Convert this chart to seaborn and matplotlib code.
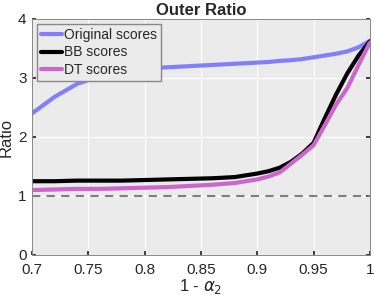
import numpy as np
import pandas as pd
import matplotlib
matplotlib.use("Agg")
import matplotlib.pyplot as plt
import seaborn as sns

# values
alpha = [0.70, 0.72, 0.74, 0.76, 0.78, 0.80, 0.82, 0.84, 0.86, 0.88, 0.90, 0.91,
         0.92, 0.93, 0.94, 0.95, 0.96, 0.97, 0.98, 0.99, 1.00]
original = [2.40, 2.68, 2.90, 3.03, 3.11, 3.16, 3.18, 3.20, 3.22, 3.24, 3.26, 3.27,
            3.29, 3.30, 3.32, 3.35, 3.38, 3.41, 3.45, 3.52, 3.63]
bb = [1.25, 1.25, 1.26, 1.26, 1.26, 1.27, 1.28, 1.29, 1.30, 1.32, 1.38, 1.42,
      1.48, 1.58, 1.72, 1.90, 2.32, 2.72, 3.08, 3.38, 3.62]
dt = [1.10, 1.11, 1.12, 1.12, 1.13, 1.14, 1.15, 1.17, 1.19, 1.22, 1.28, 1.33,
      1.40, 1.55, 1.70, 1.86, 2.20, 2.55, 2.83, 3.22, 3.60]
series = ["Original scores", "BB scores", "DT scores"]
colors = ["#8080ff", "#000000", "#cc66cc"]

df = pd.DataFrame({
    "alpha": alpha * 3,
    "ratio": original + bb + dt,
    "series": np.repeat(series, len(alpha)),
})

sns.set_theme(style="darkgrid")
plt.rcParams["font.family"] = ["Liberation Sans", "DejaVu Sans"]
plt.rcParams["axes.facecolor"] = "#ebebeb"

fig = plt.figure(figsize=(3.74, 3.05), dpi=100)
ax = fig.add_axes([0.086, 0.164, 0.903, 0.774])

ax.axhline(1, color="#808080", ls=(0, (4, 3)), lw=1.5, zorder=1)
sns.lineplot(data=df, x="alpha", y="ratio", hue="series", palette=colors,
             hue_order=series, linewidth=3.0, ax=ax, legend=True)

ax.set_xlim(0.7, 1.0)
ax.set_ylim(0, 4)
xt = [0.7, 0.75, 0.8, 0.85, 0.9, 0.95, 1.0]
ax.set_xticks(xt)
ax.set_xticklabels(["0.7", "0.75", "0.8", "0.85", "0.9", "0.95", "1"])
ax.set_yticks([0, 1, 2, 3, 4])
ax.tick_params(direction="in", length=3, labelsize=11, colors="#262626",
               top=False, right=True, left=True, bottom=True)
ax.tick_params(axis="x", pad=6)
ax.tick_params(axis="y", pad=4)
ax.grid(color="white", lw=0.8)
for s in ax.spines.values():
    s.set_visible(True)
    s.set_color("#888888")
    s.set_linewidth(0.7)

ax.set_title("Outer Ratio", fontsize=12, fontweight="bold", pad=3)
ax.set_xlabel(r"1 - $\alpha_2$", fontsize=12, labelpad=0)
ax.set_ylabel("Ratio", fontsize=12, labelpad=3)

leg = ax.legend(loc="upper left", fontsize=10, frameon=True, fancybox=False,
                handlelength=1.5, handletextpad=0.15, borderpad=0.3,
                labelspacing=0.25, borderaxespad=0.35)
leg.get_frame().set_edgecolor("#888888")
leg.get_frame().set_facecolor("#ebebeb")
leg.get_frame().set_alpha(1)
for line in leg.get_lines():
    line.set_linewidth(3.0)

fig.savefig("out.png", dpi=100)
